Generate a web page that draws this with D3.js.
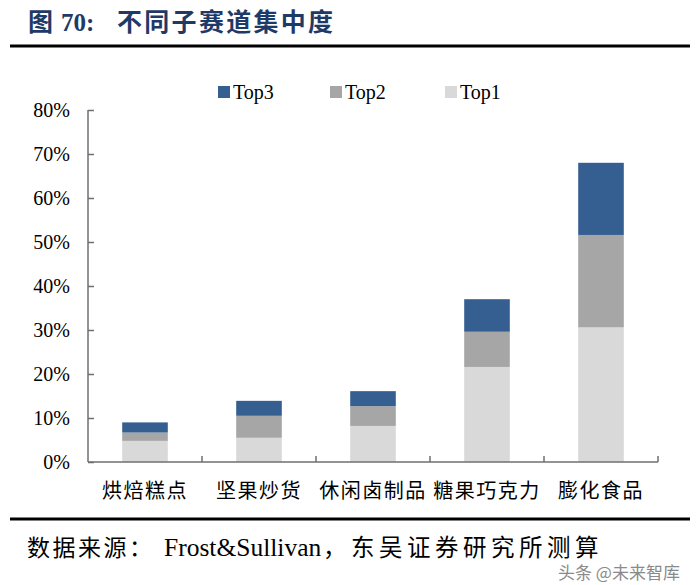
<!DOCTYPE html>
<html><head><meta charset="utf-8">
<script src="https://cdn.jsdelivr.net/npm/d3@7"></script>
<style>body{margin:0;background:#fff}svg{display:block}</style>
</head><body>
<svg id="c" width="700" height="585"></svg>
<script>
const categories = ["烘焙糕点","坚果炒货","休闲卤制品","糖果巧克力","膨化食品"];
const top1 = [4.8, 5.5, 8.2, 21.6, 30.6];
const top2 = [1.9, 5.0, 4.5, 8.0, 21.0];
const top3 = [2.3, 3.4, 3.4, 7.4, 16.4];
const seriesNames = ["Top1","Top2","Top3"];
const seriesColors = ["#D9D9D9","#A6A6A6","#355F91"];
const yTicks = [0,10,20,30,40,50,60,70,80];
const titleParts = ["图", "70:", "不同子赛道集中度"];
const sourceParts = ["数据来源：", "Frost&Sullivan", "，东吴证券研究所测算"];
const watermark = "头条 @未来智库";

const svg = d3.select("#c");
const serif = "'Liberation Serif','Times New Roman','Noto Sans CJK SC',serif";
const cjk = "'Noto Sans CJK SC',sans-serif";

// title
const tt = svg.append("text").attr("y",31).attr("font-weight","bold").attr("font-size",25).attr("fill","#1F3A66");
tt.append("tspan").attr("x",28).attr("font-family",cjk).text(titleParts[0]);
tt.append("tspan").attr("x",61).attr("font-family",serif).text(titleParts[1]);
tt.append("tspan").attr("x",117).attr("font-family",cjk).attr("letter-spacing","2.3px").text(titleParts[2]);
svg.append("line").attr("x1",10).attr("x2",690).attr("y1",46).attr("y2",46).attr("stroke","#000").attr("stroke-width",3);

const m = {l:88, r:658, t:110, b:462};
const x = d3.scaleBand().domain(categories).range([m.l,m.r]).paddingInner(0.6).paddingOuter(0.3);
const y = d3.scaleLinear().domain([0,80]).range([m.b,m.t]);

const data = categories.map((c,i)=>({cat:c, Top1:top1[i], Top2:top2[i], Top3:top3[i]}));
const stack = d3.stack().keys(seriesNames)(data);

svg.append("g").selectAll("g").data(stack).join("g").attr("fill",(d,i)=>seriesColors[i])
  .selectAll("rect").data(d=>d).join("rect")
  .attr("x",d=>x(d.data.cat)).attr("width",x.bandwidth())
  .attr("y",d=>y(d[1])).attr("height",d=>y(d[0])-y(d[1]));

// y axis
const axisColor = "#6f6f6f";
const ya = svg.append("g").attr("transform",`translate(${m.l},0)`)
  .call(d3.axisRight(y).tickValues(yTicks).tickSize(6).tickFormat(d=>d+"%"));
ya.select(".domain").attr("stroke",axisColor).attr("stroke-width",1.5).attr("d",`M0,${m.t}V${m.b}`);
ya.selectAll(".tick line").attr("stroke",axisColor).attr("stroke-width",1.5);
ya.selectAll(".tick text").attr("x",-18).attr("text-anchor","end").attr("font-family",serif)
  .attr("font-size",20).attr("fill","#000");

// x axis
const xa = svg.append("g").attr("transform",`translate(0,${m.b})`)
  .call(d3.axisBottom(x).tickSize(0).tickFormat(d=>d));
xa.select(".domain").attr("stroke",axisColor).attr("stroke-width",1.5).attr("d",`M${m.l},0H${m.r}`);
xa.selectAll(".tick text").attr("y",22).attr("dy","0.71em").attr("font-family",cjk).attr("font-size",20)
  .attr("letter-spacing","1.5px").attr("fill","#000");
const step = x.step();
const bounds = d3.range(1,categories.length+1).map(i=>m.l+i*step);
svg.append("g").selectAll("line").data(bounds).join("line")
  .attr("x1",d=>d).attr("x2",d=>d).attr("y1",m.b).attr("y2",m.b-6)
  .attr("stroke",axisColor).attr("stroke-width",1.5);

// legend
const legX = [218,330,445];
const legOrder = [2,1,0];
legOrder.forEach((si,k)=>{
  const g = svg.append("g").attr("transform",`translate(${legX[k]},92)`);
  g.append("rect").attr("x",0).attr("y",-6).attr("width",12).attr("height",12).attr("fill",seriesColors[si]);
  g.append("text").attr("x",15).attr("y",7).attr("font-family",serif).attr("font-size",20).attr("fill","#000").text(seriesNames[si]);
});

// footer
svg.append("line").attr("x1",10).attr("x2",690).attr("y1",519).attr("y2",519).attr("stroke","#000").attr("stroke-width",3);
const ft = svg.append("text").attr("y",556).attr("fill","#000");
ft.append("tspan").attr("x",27).attr("font-family",cjk).attr("font-size",23).attr("letter-spacing","2.5px").text(sourceParts[0]);
ft.append("tspan").attr("x",164).attr("font-family",serif).attr("font-size",25.5).text(sourceParts[1]);
ft.append("tspan").attr("x",323).attr("font-family",cjk).attr("font-size",23.5).attr("letter-spacing","4.5px").text(sourceParts[2]);
svg.append("text").attr("x",558).attr("y",579).attr("font-family",cjk).attr("font-size",17)
  .attr("fill","#8a8a8a").attr("stroke","#fff").attr("stroke-width",2).attr("paint-order","stroke").text(watermark);
</script>
</body></html>
